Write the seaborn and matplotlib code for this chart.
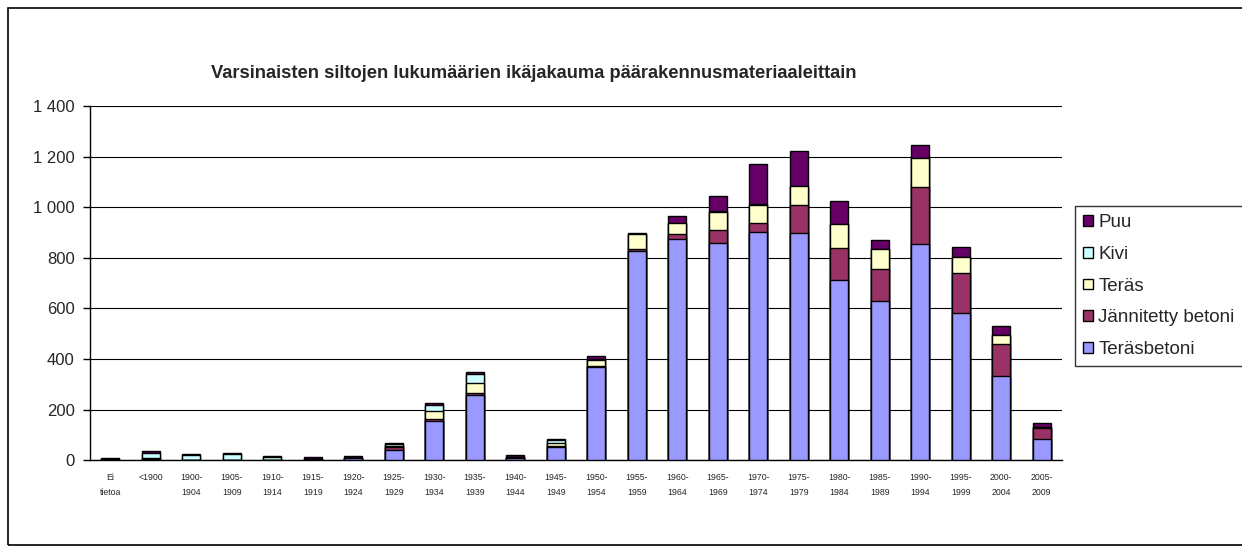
import numpy as np
import pandas as pd
import seaborn as sns
import matplotlib.pyplot as plt
from matplotlib.patches import Patch, Rectangle

categories = ["Ei\ntietoa", "<1900", "1900-\n1904", "1905-\n1909", "1910-\n1914", "1915-\n1919",
              "1920-\n1924", "1925-\n1929", "1930-\n1934", "1935-\n1939", "1940-\n1944", "1945-\n1949",
              "1950-\n1954", "1955-\n1959", "1960-\n1964", "1965-\n1969", "1970-\n1974", "1975-\n1979",
              "1980-\n1984", "1985-\n1989", "1990-\n1994", "1995-\n1999", "2000-\n2004", "2005-\n2009"]

terasbetoni = [2, 3, 0, 2, 3, 2, 8, 41, 155, 258, 10, 54, 370, 828, 873, 857, 902, 897, 711, 629, 856, 583, 334, 84]
jannitetty = [2, 2, 0, 0, 0, 2, 2, 10, 8, 6, 2, 2, 4, 5, 20, 52, 37, 112, 129, 128, 224, 157, 125, 45]
teras = [0, 3, 0, 1, 0, 2, 0, 4, 30, 40, 2, 14, 24, 60, 46, 72, 70, 76, 92, 77, 116, 64, 37, 4]
kivi = [0, 22, 22, 23, 10, 0, 0, 10, 27, 38, 0, 9, 2, 2, 0, 3, 5, 0, 0, 0, 0, 0, 0, 0]
puu = [6, 7, 2, 3, 3, 6, 6, 2, 7, 7, 7, 4, 12, 5, 25, 60, 155, 137, 91, 36, 50, 38, 35, 16]

series = ["Teräsbetoni", "Jännitetty betoni", "Teräs", "Kivi", "Puu"]
colors = ["#9999FF", "#993366", "#FFFFCC", "#CCFFFF", "#660066"]

df = pd.DataFrame({"kausi": categories, "Teräsbetoni": terasbetoni, "Jännitetty betoni": jannitetty,
                   "Teräs": teras, "Kivi": kivi, "Puu": puu})
cum = df[series].cumsum(axis=1)

sns.set_style("white")
plt.rcParams["font.family"] = ["Liberation Sans", "DejaVu Sans"]

fig = plt.figure(figsize=(12.42, 5.54), dpi=100)
ax = fig.add_axes([90 / 1242, 1 - 460.3 / 554, 972 / 1242, 354.3 / 554])

# stacked bars: draw cumulative totals from top series down
for name, col in reversed(list(zip(series, colors))):
    sns.barplot(x=df["kausi"], y=cum[name], order=categories, color=col, width=0.44,
                edgecolor="black", linewidth=1, saturation=1, ax=ax, zorder=3)

ax.set_xlim(-0.5, len(categories) - 0.5)
ax.set_ylim(0, 1400)
ax.set_yticks(np.arange(0, 1401, 200))
ax.set_yticklabels([f"{v:,}".replace(",", " ") for v in range(0, 1401, 200)], fontsize=12)
ax.yaxis.grid(True, color="black", linewidth=0.8, zorder=0)
ax.set_axisbelow(True)
ax.set_xlabel("")
ax.set_ylabel("")

ax.set_xticks(range(len(categories)))
ax.set_xticklabels(categories, fontsize=6.3, linespacing=1.85, va="top")
ax.set_xticks(np.arange(-0.5, len(categories), 1), minor=True)
ax.tick_params(axis="x", which="major", length=0, pad=9)
ax.tick_params(axis="x", which="minor", length=4, width=1, color="black", direction="out")
ax.tick_params(axis="y", length=5, width=1, color="black", direction="out", pad=6, left=True)

for s in ["top", "right"]:
    ax.spines[s].set_visible(False)
for s in ["left", "bottom"]:
    ax.spines[s].set_color("black")
    ax.spines[s].set_linewidth(1)

fig.text(534 / 1242, 1 - 73 / 554, "Varsinaisten siltojen lukumäärien ikäjakauma päärakennusmateriaaleittain",
         ha="center", va="center", fontsize=13.2, fontweight="bold")

handles = [Patch(facecolor=c, edgecolor="black", linewidth=1) for c in reversed(colors)]
leg = fig.legend(handles, list(reversed(series)), loc="upper left",
                 bbox_to_anchor=(1075 / 1242, 1 - 206 / 554), fontsize=13.5,
                 frameon=True, fancybox=False, shadow=False, handlelength=0.5, handleheight=0.5,
                 handletextpad=0.3, labelspacing=0.78, borderpad=0.45, borderaxespad=0)
leg.get_frame().set_edgecolor("black")
leg.get_frame().set_linewidth(1)

fig.patches.append(Rectangle((8 / 1242, 1 - 545 / 554), 1.1, (545 - 8) / 554, transform=fig.transFigure,
                             fill=False, edgecolor="black", linewidth=1.2))

fig.savefig("out.png", dpi=100)
